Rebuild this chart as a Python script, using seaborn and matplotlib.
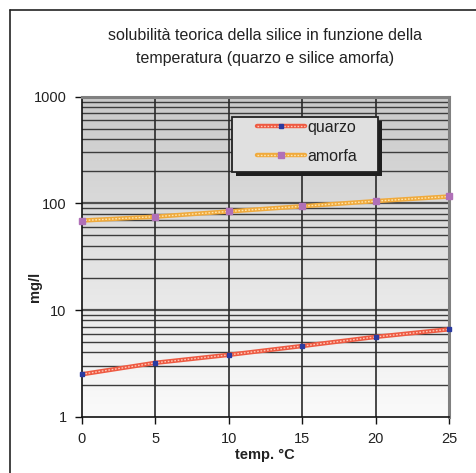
import numpy as np
import pandas as pd
import matplotlib
matplotlib.use("Agg")
import matplotlib.pyplot as plt
from matplotlib.lines import Line2D
from matplotlib.patches import Rectangle
from matplotlib.legend_handler import HandlerTuple
import seaborn as sns

# Temperature (°C) and theoretical silica solubility (mg/l)
temperature = [0, 5, 10, 15, 20, 25]
quarzo = [2.5, 3.2, 3.8, 4.6, 5.6, 6.6]
amorfa = [69, 75, 84, 94, 105, 116]

series_names = ["quarzo", "amorfa"]
title_lines = ["solubilità teorica della silice in funzione della",
               "temperatura (quarzo e silice amorfa)"]
x_label = "temp. °C"
y_label = "mg/l"
x_ticks = [0, 5, 10, 15, 20, 25]
y_ticks = [1, 10, 100, 1000]

sns.set_theme(style="white")
plt.rcParams["font.family"] = ["Liberation Sans", "DejaVu Sans"]

W, H = 477, 473
fig = plt.figure(figsize=(W / 100, H / 100), dpi=100)
fig.patch.set_facecolor("white")


def fx(px):
    return px / W


def fy(py):
    return 1 - py / H


left, right, top, bottom = 82, 449, 96.7, 416.7
ax = fig.add_axes([fx(left), fy(bottom), (right - left) / W, (bottom - top) / H])

df = pd.DataFrame({
    "temp": temperature * 2,
    "val": quarzo + amorfa,
    "serie": [series_names[0]] * len(temperature) + [series_names[1]] * len(temperature),
})

# gradient plot background
grad = np.linspace(0, 1, 256).reshape(-1, 1)
cmap = matplotlib.colors.LinearSegmentedColormap.from_list("bg", ["#c9c9c9", "#fbfbfb"])
ax.imshow(grad, aspect="auto", cmap=cmap, extent=[0, 1, 0, 1],
          transform=ax.transAxes, zorder=0)

ax.set_yscale("log")
ax.set_xlim(0, 25)
ax.set_ylim(1, 1000)

# grid: decade lines, minor lines and vertical lines every 5 °C
for dec in [1, 10, 100]:
    for m in range(2, 10):
        ax.axhline(dec * m, color="#3c3c3c", lw=1.0, zorder=1)
for yv in y_ticks[1:]:
    ax.axhline(yv, color="#505050", lw=1.6, zorder=1)
for xv in x_ticks[1:-1]:
    ax.axvline(xv, color="#2a2a2a", lw=1.2, zorder=1)

styles = {
    "quarzo": dict(base="#ee5a42", over="#ffc8b8", mk="#2a3aa0", marker="s", ms=2.5),
    "amorfa": dict(base="#f0aa3c", over="#ffe6b0", mk="#b070b8", marker="s", ms=5),
}

sns.lineplot(data=df, x="temp", y="val", hue="serie",
             palette={k: v["base"] for k, v in styles.items()},
             lw=3.2, legend=False, ax=ax, zorder=3)

handles = []
for name, vals in zip(series_names, [quarzo, amorfa]):
    st = styles[name]
    ax.plot(temperature, vals, color=st["over"], lw=1.0, dashes=(1.2, 1.2), zorder=4)
    ax.plot(temperature, vals, ls="none", marker=st["marker"], ms=st["ms"],
            mfc=st["mk"], mec=st["mk"], zorder=5, clip_on=False)
    h1 = Line2D([], [], color=st["base"], lw=3.2)
    h2 = Line2D([], [], color=st["over"], lw=1.0, dashes=(1.2, 1.2),
                marker=st["marker"], ms=st["ms"], mfc=st["mk"], mec=st["mk"])
    handles.append((h1, h2))

# spines and ticks
for s in ["left", "bottom"]:
    ax.spines[s].set_color("#111111")
    ax.spines[s].set_linewidth(1.2)
ax.spines["right"].set_color("#808080")
ax.spines["right"].set_linewidth(2.2)
ax.spines["top"].set_color("#808080")
ax.spines["top"].set_linewidth(2.2)

ax.set_xticks(x_ticks)
ax.set_xticklabels([str(v) for v in x_ticks])
ax.set_yticks(y_ticks)
ax.set_yticklabels([str(v) for v in y_ticks])
ax.yaxis.set_minor_locator(matplotlib.ticker.NullLocator())
ax.tick_params(axis="both", which="major", direction="out", length=5, width=1,
               color="#111111", labelsize=10.5, labelcolor="#222222", pad=6,
               left=True, bottom=True)
ax.set_xlabel("")
ax.set_ylabel("")

# legend box with drop shadow
bx0, by0, bx1, by1 = 232, 117, 378, 172
fig.add_artist(Rectangle((fx(bx0 + 4), fy(by1 + 4)), (bx1 - bx0) / W, (by1 - by0) / H,
                         transform=fig.transFigure, facecolor="#1e1e1e",
                         edgecolor="none", zorder=6))
fig.add_artist(Rectangle((fx(bx0), fy(by1)), (bx1 - bx0) / W, (by1 - by0) / H,
                         transform=fig.transFigure, facecolor="#e0e0e0",
                         edgecolor="#222222", lw=1.3, zorder=7))

leg = fig.legend(handles, series_names, handler_map={tuple: HandlerTuple(ndivide=1, pad=0)},
                 loc="upper left", bbox_to_anchor=(fx(257), fy(120)),
                 bbox_transform=fig.transFigure, frameon=False, fontsize=11.5,
                 handlelength=3.0, handletextpad=0.15, labelspacing=0.85,
                 borderpad=0, borderaxespad=0, numpoints=1)
leg.set_zorder(8)
for t in leg.get_texts():
    t.set_color("#222222")

# titles and axis labels
fig.text(fx(265), fy(36), title_lines[0], ha="center", va="center",
         fontsize=11.5, color="#222222")
fig.text(fx(265), fy(58), title_lines[1], ha="center", va="center",
         fontsize=11.5, color="#222222")
fig.text(fx(265), fy(455), x_label, ha="center", va="center",
         fontsize=10.5, fontweight="bold", color="#222222")
fig.text(fx(35), fy(287), y_label, ha="center", va="center", rotation=90,
         fontsize=10.5, fontweight="bold", color="#222222")

# outer chart frame
fig.add_artist(Line2D([fx(10), fx(10)], [0, fy(10)], transform=fig.transFigure,
                      color="#222222", lw=1.2))
fig.add_artist(Line2D([fx(10), 1], [fy(10), fy(10)], transform=fig.transFigure,
                      color="#222222", lw=1.2))

fig.savefig("out.png", dpi=100)
